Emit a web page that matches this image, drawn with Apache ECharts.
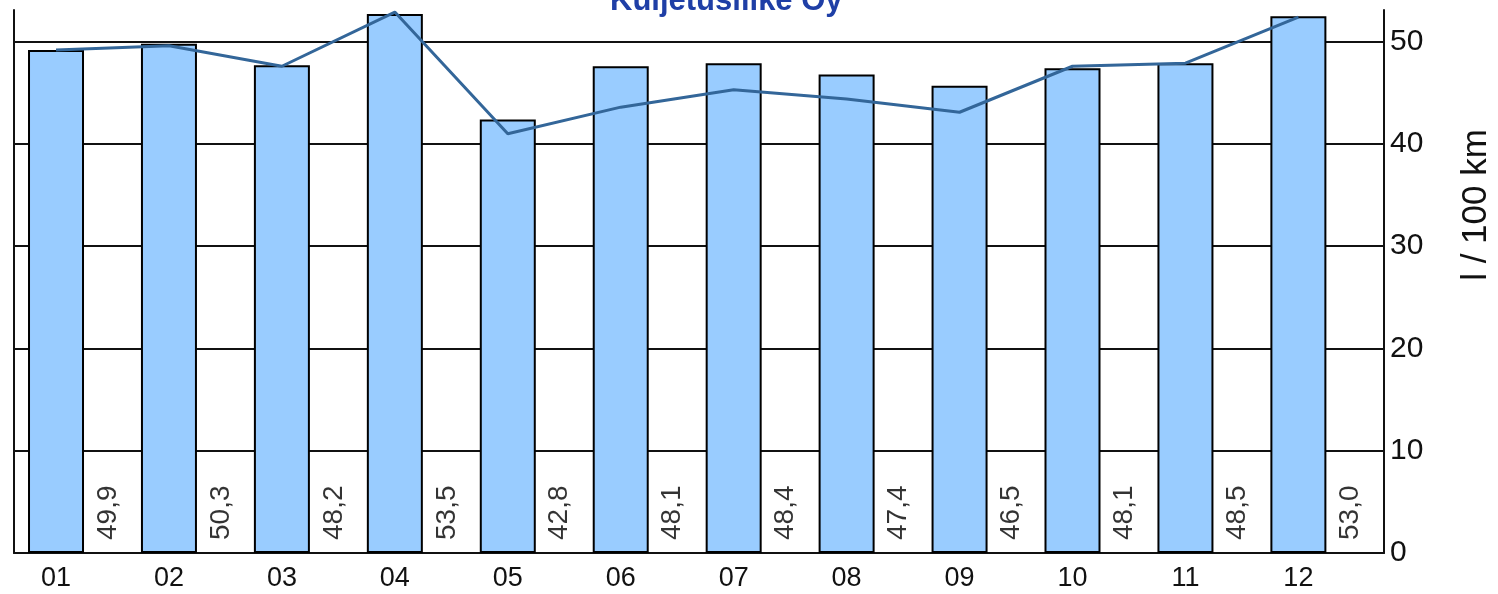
<!DOCTYPE html>
<html>
<head>
<meta charset="utf-8">
<script src="https://cdn.jsdelivr.net/npm/echarts@6/dist/echarts.min.js"></script>
<style>
  html, body { margin: 0; padding: 0; background: #fff; }
  #chart { width: 1498px; height: 594px; }
</style>
</head>
<body>
<div id="chart"></div>
<script>
const months = ["01", "02", "03", "04", "05", "06", "07", "08", "09", "10", "11", "12"];
const barValues = [49.2, 49.8, 47.7, 52.7, 42.4, 47.6, 47.9, 46.8, 45.7, 47.4, 47.9, 52.5];
const lineValues = [49.2, 49.6, 47.6, 52.9, 41.0, 43.6, 45.3, 44.4, 43.1, 47.6, 47.9, 52.4];
const labelValues = [49.9, 50.3, 48.2, 53.5, 42.8, 48.1, 48.4, 47.4, 46.5, 48.1, 48.5, 53.0];
const yTicks = [0, 10, 20, 30, 40, 50];

const font = "'Liberation Sans', Arial, sans-serif";
const chart = echarts.init(document.getElementById("chart"));

chart.setOption({
  animation: false,
  textStyle: { fontFamily: font },
  title: {
    text: "Kuljetusliike Oy",
    left: 610,
    top: -14,
    padding: 0,
    textStyle: { color: "#1f3fa6", fontSize: 31, fontWeight: "bold", fontFamily: font },
  },
  grid: { left: 14, right: 114, top: 10, bottom: 41 },
  xAxis: {
    type: "value",
    min: -0.372,
    max: 11.758,
    axisLine: { show: true, onZero: false, lineStyle: { color: "#111", width: 2 } },
    axisTick: { show: false },
    splitLine: { show: false },
    axisLabel: {
      customValues: months.map((m, i) => i),
      formatter: (v) => months[Math.round(v)],
      fontSize: 27,
      color: "#111",
      margin: 12,
    },
  },
  yAxis: [
    {
      type: "value",
      position: "right",
      min: 0,
      max: 53.1,
      axisLine: { show: true, onZero: false, lineStyle: { color: "#111", width: 2 } },
      axisTick: { show: false, customValues: yTicks },
      axisLabel: { customValues: yTicks, fontSize: 30, color: "#111", margin: 6 },
      splitLine: { show: true, lineStyle: { color: "#111", width: 2 } },
    },
    {
      type: "value",
      position: "left",
      min: 0,
      max: 53.1,
      axisLine: { show: true, onZero: false, lineStyle: { color: "#111", width: 2 } },
      axisTick: { show: false },
      axisLabel: { show: false },
      splitLine: { show: false },
    },
  ],
  graphic: [
    {
      type: "text",
      x: 1494,
      y: 205,
      rotation: Math.PI / 2,
      style: {
        text: "l / 100 km",
        font: "35px " + font,
        fill: "#111",
        align: "center",
        verticalAlign: "bottom",
      },
    },
  ],
  series: [
    {
      type: "bar",
      yAxisIndex: 0,
      barWidth: 56,
      data: barValues.map((v, i) => [i, v]),
      itemStyle: { color: "#99ccff", borderColor: "#000", borderWidth: 2 },
      z: 2,
    },
    {
      type: "line",
      yAxisIndex: 0,
      data: lineValues.map((v, i) => [i, v]),
      symbol: "none",
      lineStyle: { color: "#336699", width: 3 },
      z: 3,
    },
    {
      type: "scatter",
      yAxisIndex: 0,
      symbolSize: 0,
      data: labelValues.map((v, i) => [i + 0.46, 0, v]),
      label: {
        show: true,
        position: "top",
        distance: 13,
        rotate: 90,
        align: "left",
        verticalAlign: "middle",
        fontSize: 28,
        color: "#000",
        formatter: (p) => p.value[2].toFixed(1).replace(".", ","),
      },
      z: 4,
    },
  ],
});
</script>
</body>
</html>
